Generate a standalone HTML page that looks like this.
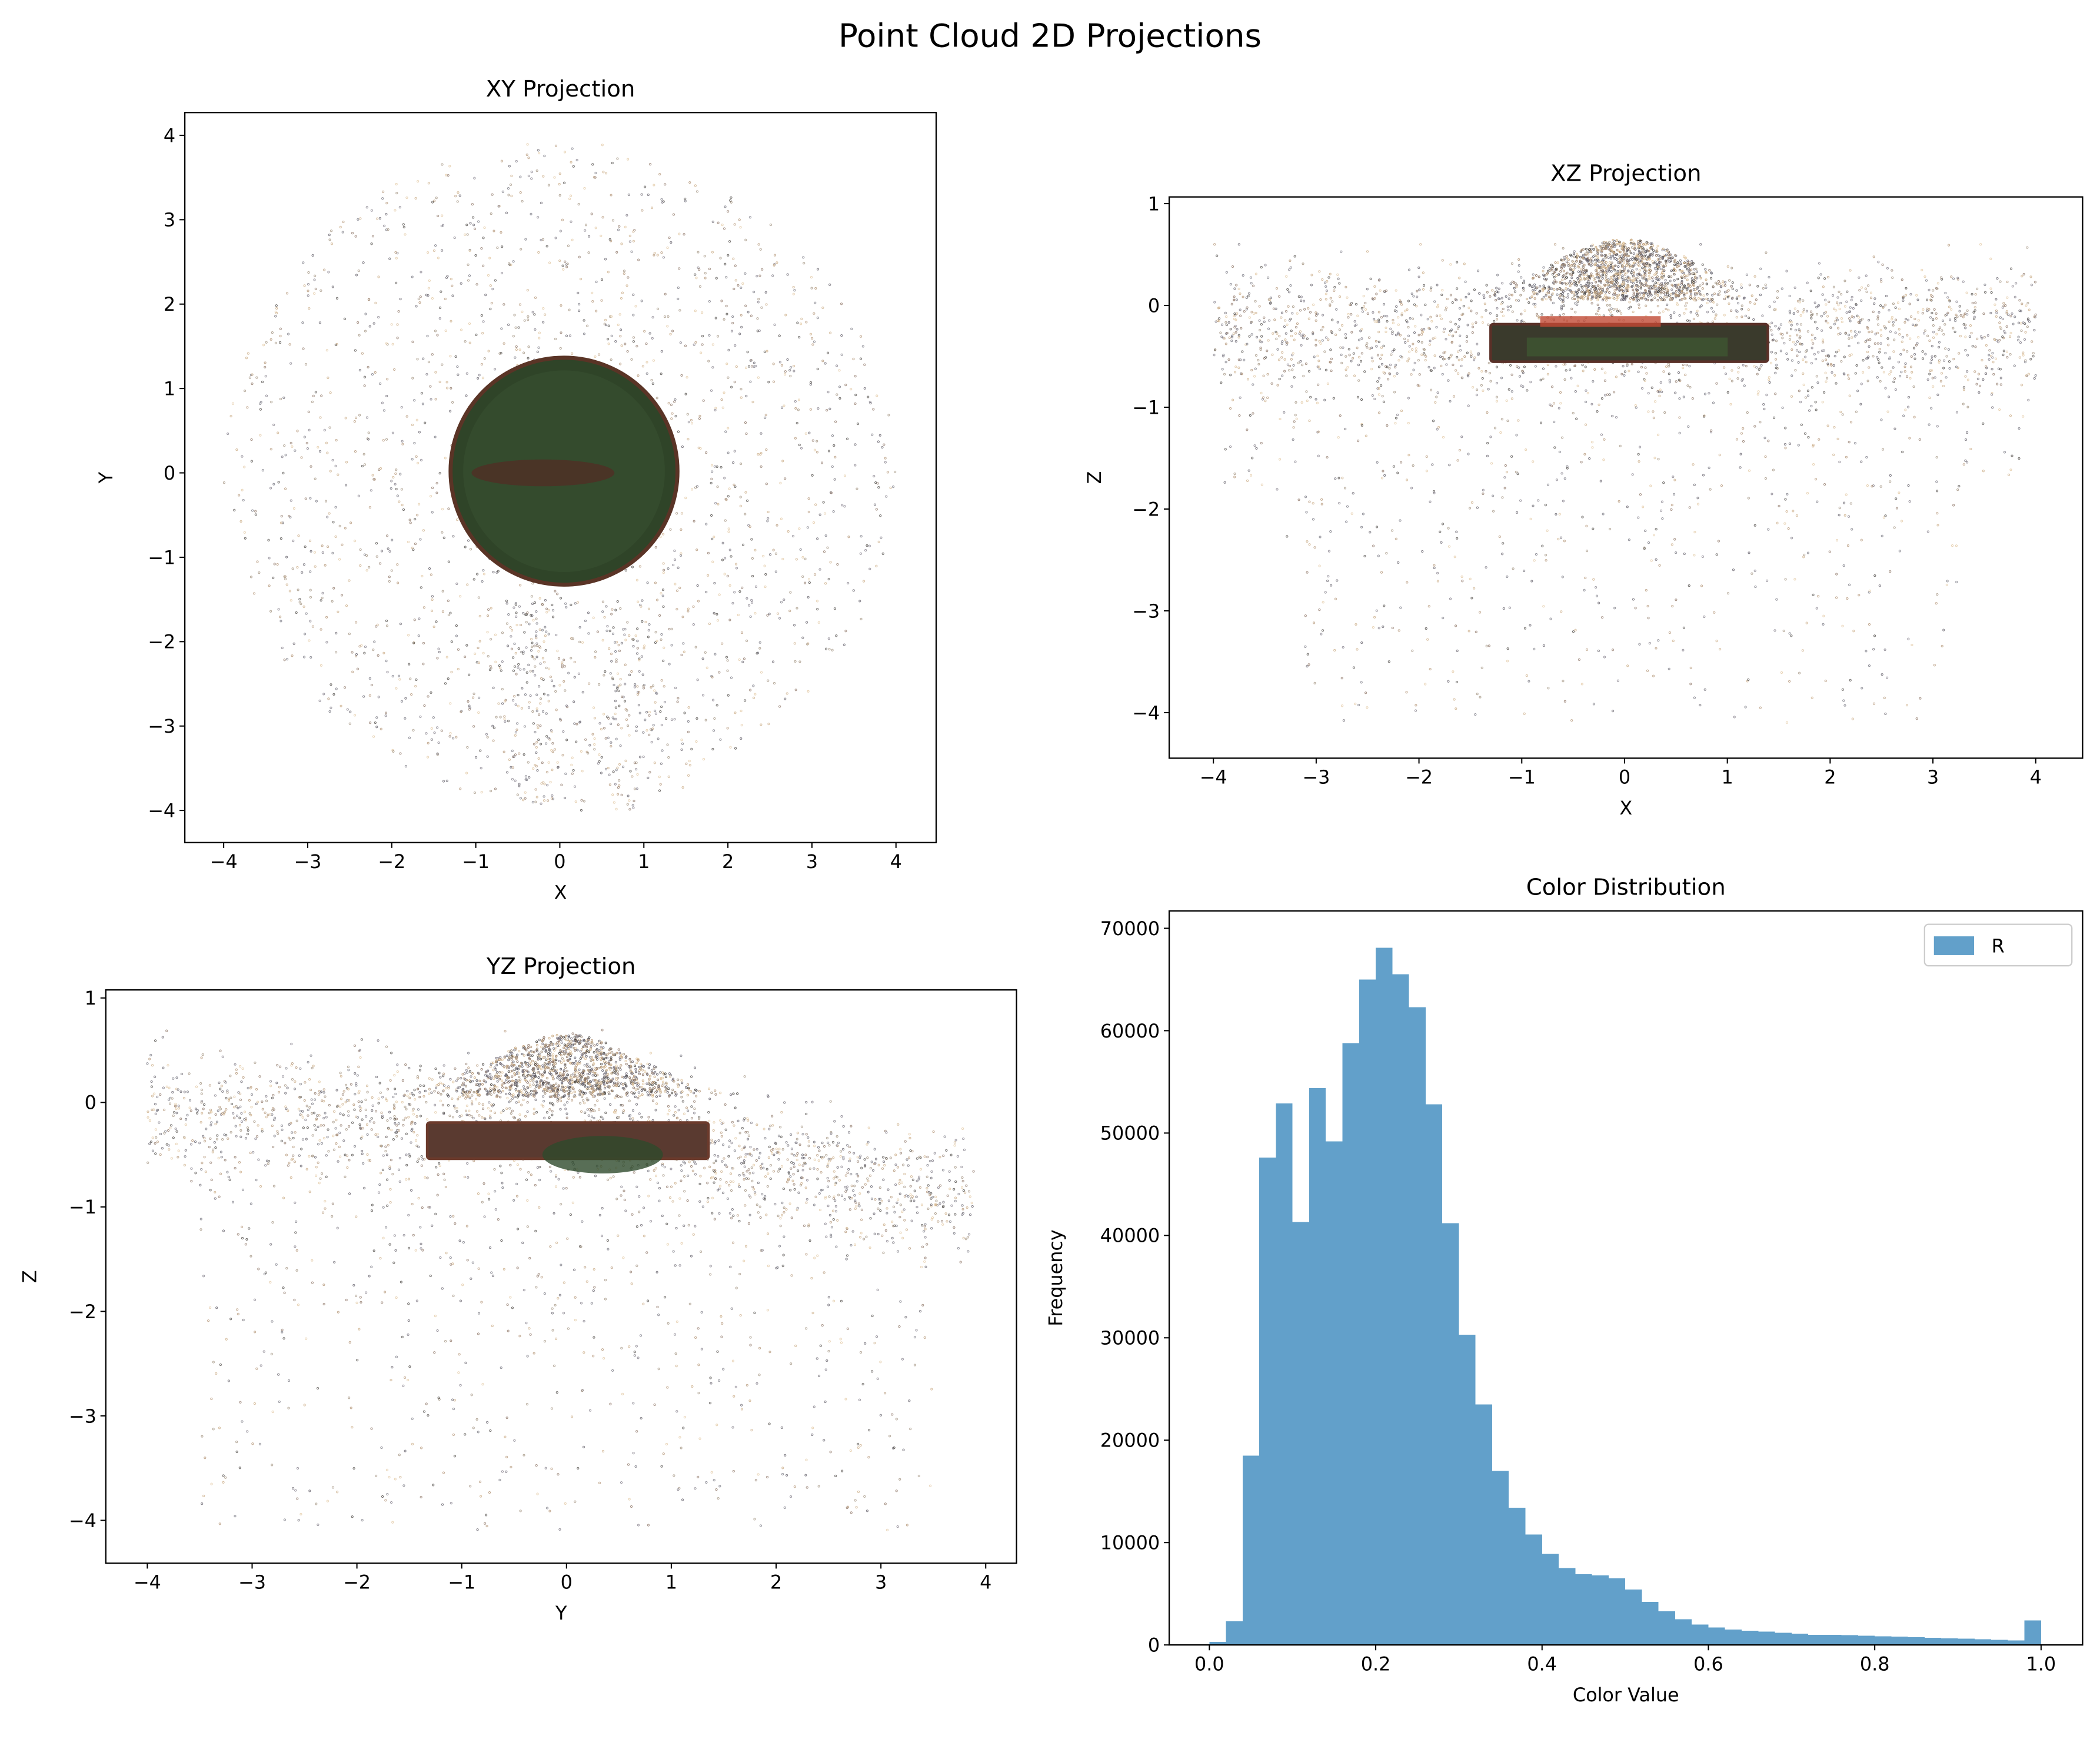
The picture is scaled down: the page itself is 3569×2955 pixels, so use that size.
<!DOCTYPE html>
<html><head><meta charset="utf-8"><style>
html,body{margin:0;padding:0;background:#fff}
svg{display:block;font-family:"DejaVu Sans","Liberation Sans",sans-serif}
</style></head><body>
<svg id="fig" width="3569" height="2955" viewBox="0 0 1568 1298.2" xmlns="http://www.w3.org/2000/svg">
<rect width="1568" height="1298.2" fill="#fff"/>
<text x="784" y="35" font-size="24" text-anchor="middle">Point Cloud 2D Projections</text>
<g id="layer"></g>
</svg>
<script>
// Histogram data (Color Distribution, R channel)
const histBinStart = 0.0;
const histBinWidth = 0.02;
const histCounts = [300,2300,18500,47600,52900,41300,54400,49200,58800,65000,
68100,65500,62300,52800,41200,30300,23500,17000,13400,10800,
8900,7500,6900,6800,6500,5400,4200,3300,2500,2000,
1700,1500,1400,1300,1200,1100,1000,1000,950,900,
850,800,750,700,650,600,550,500,450,2400];
const histYTicks = [0,10000,20000,30000,40000,50000,60000,70000];
const histXTicks = [0.0,0.2,0.4,0.6,0.8,1.0];
const xyTicksX = [-4,-3,-2,-1,0,1,2,3,4];
const xyTicksY = [-4,-3,-2,-1,0,1,2,3,4];
const xzTicksX = [-4,-3,-2,-1,0,1,2,3,4];
const xzTicksZ = [-4,-3,-2,-1,0,1];
const yzTicksY = [-4,-3,-2,-1,0,1,2,3,4];
const yzTicksZ = [-4,-3,-2,-1,0,1];

const NS="http://www.w3.org/2000/svg";
const layer=document.getElementById('layer');
function el(tag,attrs,parent){const e=document.createElementNS(NS,tag);for(const k in attrs)e.setAttribute(k,attrs[k]);(parent||layer).appendChild(e);return e;}
function lin(d0,d1,r0,r1){return v=>r0+(v-d0)*(r1-r0)/(d1-d0);}

// seeded PRNG for decorative point cloud texture
let seed=12345;function rnd(){seed=(seed*1664525+1013904223)>>>0;return seed/4294967296;}
function gauss(){return Math.sqrt(-2*Math.log(rnd()+1e-9))*Math.cos(2*Math.PI*rnd());}
const cols=['#6f6f7a','#7a7480','#5a5660','#c8a880','#e0c49c','#8a7060','#9c8c78','#44403c','#b09070'];

function axes(name,box,sx,sy,xt,yt,title,xl,yl,fmt){
  const g=el('g',{});
  
  
  xt.forEach(v=>{const x=sx(v);
    el('line',{x1:x,x2:x,y1:box.y2,y2:box.y2+4,stroke:'#000','stroke-width':0.9},g);
    const tx=el('text',{x:x,y:box.y2+19,'font-size':14,'text-anchor':'middle'},g);
    tx.textContent=fmt?fmt(v):(v<0?'\u2212'+(-v):''+v);
    });
  yt.forEach(v=>{const y=sy(v);
    el('line',{x1:box.x1-4,x2:box.x1,y1:y,y2:y,stroke:'#000','stroke-width':0.9},g);
    const tx=el('text',{x:box.x1-7,y:y+5,'font-size':14,'text-anchor':'end'},g);
    tx.textContent=(v<0?'\u2212'+(-v):''+v);
    });
  const tt=el('text',{x:(box.x1+box.x2)/2,y:box.y1-12,'font-size':17,'text-anchor':'middle'},g);tt.textContent=title;
  
  const xa=el('text',{x:(box.x1+box.x2)/2,y:box.y2+42,'font-size':14,'text-anchor':'middle'},g);xa.textContent=xl;
  
  const ya=el('text',{x:box.yl,y:(box.y1+box.y2)/2,'font-size':14,'text-anchor':'middle',transform:`rotate(-90 ${box.yl} ${(box.y1+box.y2)/2})`},g);ya.textContent=yl;
  
  return g;
}
function frame(box,name){const r=el('rect',{x:box.x1,y:box.y1,width:box.x2-box.x1,height:box.y2-box.y1,fill:'none',stroke:'#000','stroke-width':1});
  }
function dot(g,x,y,op){el('circle',{cx:x,cy:y,r:0.7,fill:'none',stroke:cols[Math.floor(rnd()*cols.length)],'stroke-width':0.45,opacity:op||0.75},g);}

// ---------- XY ----------
{const box={x1:138,x2:699,y1:84,y2:629,yl:84};
 const sx=lin(0,4,418,669),sy=lin(0,4,353,101);
 const g=el('g',{});
 for(let i=0;i<2000;i++){const a=rnd()*2*Math.PI,r=4*Math.sqrt(rnd());let x=r*Math.cos(a),y=r*Math.sin(a)*0.98;if(y>3.9)continue;dot(g,sx(x),sy(y));}
 for(let i=0;i<300;i++){const x=(rnd()<0.5?-0.3:0.8)+gauss()*0.25;const y=-1.5-rnd()*2.5;dot(g,sx(x),sy(y));}
 const c=el('circle',{cx:sx(0.05),cy:sy(0.02),r:sx(1.35)-sx(0),fill:'#2f4428',stroke:'#5a3426','stroke-width':3});
 
 el('circle',{cx:sx(0.05),cy:sy(0.02),r:sx(1.2)-sx(0),fill:'#3a5232',opacity:0.5});
 const s=el('ellipse',{cx:sx(-0.2),cy:sy(0),rx:sx(0.85)-sx(0),ry:10,fill:'#4a3426'});
 
 frame(box,'xy-axes-frame');
 axes('xy-projection-axes',box,sx,sy,xyTicksX,xyTicksY,'XY Projection','X','Y');
}
// ---------- XZ ----------
{const box={x1:873,x2:1555,y1:147,y2:566,yl:822};
 const sx=lin(0,4,1213,1520),sz=lin(0,1,228,152);
 const g=el('g',{});
 for(let i=0;i<1700;i++){const x=-4+8*rnd();const z=-0.2+gauss()*0.3;dot(g,sx(x),sz(Math.min(0.6,z)));}
 for(let i=0;i<1000;i++){const x=-3.9+7.8*rnd();const z=-0.5-Math.pow(rnd(),1.6)*3.6;if(Math.abs(x)>3.8-(-z)*0.2&&z<-1.8)continue;dot(g,sx(x),sz(z));}
 for(let i=0;i<1300;i++){const x=gauss()*0.45;const z=0.05+rnd()*0.6*Math.exp(-x*x);dot(g,sx(x),sz(z),0.9);}
 const r=el('rect',{x:1113,y:242,width:207,height:28,fill:'#3a3a2c',stroke:'#5a3028','stroke-width':2,rx:2});
 
 el('rect',{x:1140,y:252,width:150,height:14,fill:'#3e5a32',opacity:0.7});
 el('rect',{x:1150,y:236,width:90,height:8,fill:'#c04a34',opacity:0.8});
 frame(box,'xz-axes-frame');
 axes('xz-projection-axes',box,sx,sz,xzTicksX,xzTicksZ,'XZ Projection','X','Z');
}
// ---------- YZ ----------
{const box={x1:79,x2:759,y1:739,y2:1167,yl:27};
 const sx=lin(0,4,423,736),sz=lin(0,1,823,745);
 const g=el('g',{});
 for(let i=0;i<1700;i++){const y=-4+7.9*rnd();const c=y>0?-y*0.22:0;const z=c-0.1+gauss()*0.28;dot(g,sx(y),sz(Math.min(0.7,z)));}
 for(let i=0;i<900;i++){const y=-3.5+7*rnd();const z=-0.5-Math.pow(rnd(),1.6)*3.6;dot(g,sx(y),sz(z));}
 for(let i=0;i<1200;i++){const y=gauss()*0.5;const z=0.05+rnd()*0.6*Math.exp(-y*y);dot(g,sx(y),sz(z),0.9);}
 const r=el('rect',{x:319,y:838,width:210,height:27,fill:'#5a3a30',stroke:'#6b3a2c','stroke-width':2,rx:2});
 
 el('ellipse',{cx:450,cy:862,rx:45,ry:14,fill:'#2e4a2c',opacity:0.8});
 frame(box,'yz-axes-frame');
 axes('yz-projection-axes',box,sx,sz,yzTicksY,yzTicksZ,'YZ Projection','Y','Z');
}
// ---------- Histogram ----------
{const box={x1:873,x2:1555,y1:680,y2:1228,yl:793};
 const sx=lin(0,1,903,1524),sy=lin(0,70000,1228,693);
 const g=el('g',{});
 histCounts.forEach((c,i)=>{const x0=histBinStart+i*histBinWidth;
   const b=el('rect',{x:sx(x0),y:sy(c),width:sx(x0+histBinWidth)-sx(x0),height:sy(0)-sy(c),fill:'#62a0ca','shape-rendering':'crispEdges'},g);
   });
 frame(box,'hist-axes-frame');
 axes('color-distribution-axes',box,sx,sy,histXTicks,histYTicks,'Color Distribution','Color Value','Frequency',v=>v.toFixed(1));
 const lg=el('g',{});
 el('rect',{x:1437,y:690,width:110,height:31,fill:'#fff',stroke:'#ccc','stroke-width':1,rx:3},lg);
 const p=el('rect',{x:1444,y:699,width:30,height:14,fill:'#62a0ca'},lg);
 
 const t=el('text',{x:1487,y:711,'font-size':14},lg);t.textContent='R';
}
</script>
</body></html>
